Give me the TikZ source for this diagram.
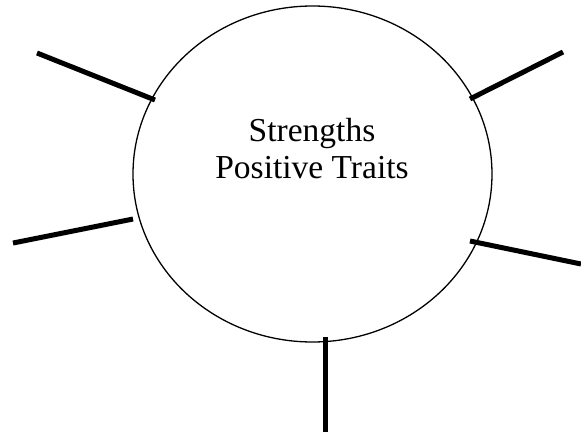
\documentclass[tikz,border=0pt]{standalone}
\usepackage{fontspec}
\setmainfont{Liberation Serif}
\usetikzlibrary{shapes.geometric}

\begin{document}
\begin{tikzpicture}[x=1pt,y=-1pt]
% Styles
\tikzset{
  spoke/.style={line width=5pt},
  hubline/.style={line width=1.3pt},
  caption/.style={font=\fontsize{33.5}{37}\selectfont, inner sep=0pt, anchor=base}
}

% Frame
\useasboundingbox (0,0) rectangle (581,436);

% Big circle
\node[ellipse, draw, hubline, minimum width=359pt, minimum height=336pt, inner sep=0pt] (hub) at (312.5,174) {};

% Texts
\node[caption] (title) at (312,141) {Strengths};
\node[caption] (traits) at (312,178) {Positive Traits};

% Spoke ends
\coordinate (tlIn) at (155,100);
\coordinate (tlOut) at (37,53);
\coordinate (lIn) at (133,219);
\coordinate (lOut) at (13,243);
\coordinate (trIn) at (470,99);
\coordinate (trOut) at (563,52);
\coordinate (rIn) at (470,241);
\coordinate (rOut) at (581,264);
\coordinate (bIn) at (325,337);
\coordinate (bOut) at (325,432);

% Spokes
\foreach \n in {tl,l,tr,r,b}
    \draw[spoke] (\n In) -- (\n Out);
\end{tikzpicture}
\end{document}
